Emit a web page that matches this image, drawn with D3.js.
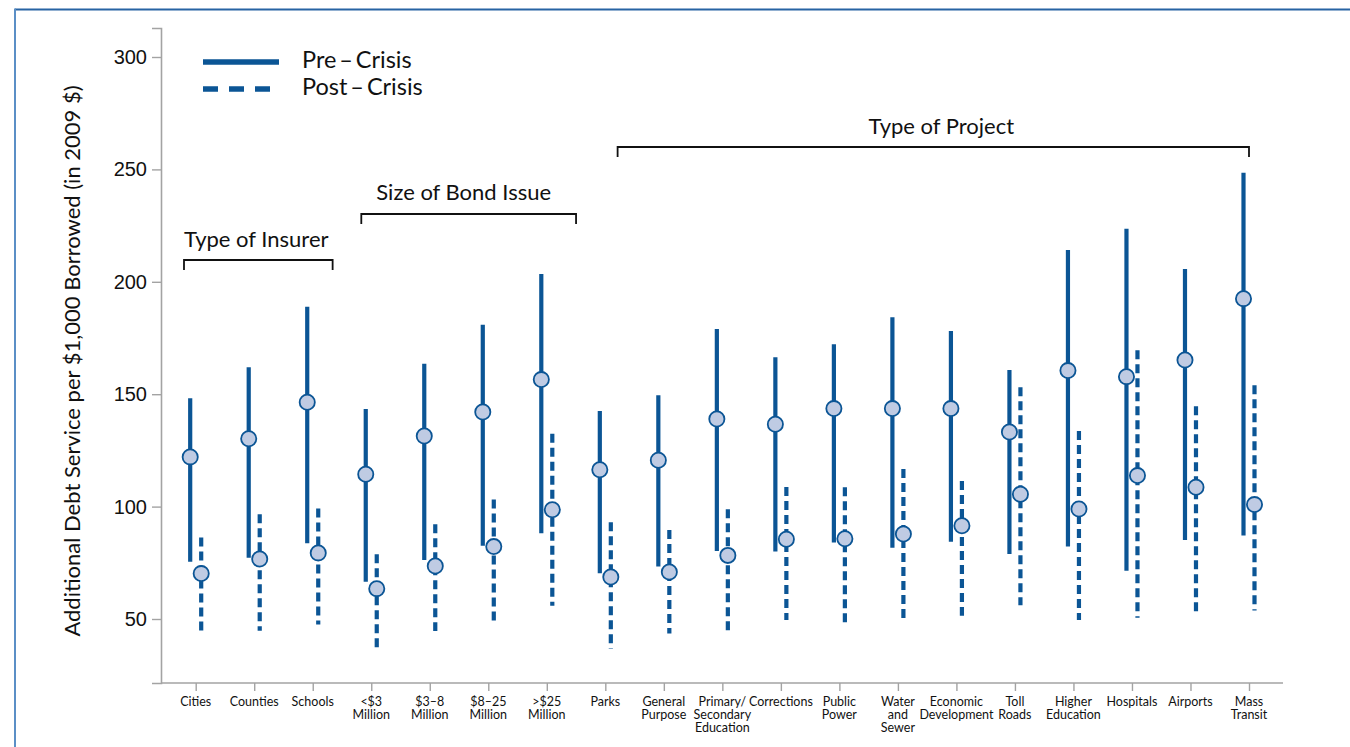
<!DOCTYPE html>
<html>
<head>
<meta charset="utf-8">
<script src="https://cdn.jsdelivr.net/npm/d3@7"></script>
<style>
  html, body { margin: 0; padding: 0; background: #fff; }
  svg { display: block; }
  .lab { font-family: Lato, "Open Sans", sans-serif; fill: #111; }
  .num { font-family: "Liberation Sans", Arial, sans-serif; fill: #111; }
</style>
</head>
<body>
<svg id="chart" width="1350" height="747"></svg>
<script>
// Category labels (line breaks marked with \n)
const categories = [
  "Cities", "Counties", "Schools",
  "<$3\nMillion", "$3–8\nMillion", "$8–25\nMillion", ">$25\nMillion",
  "Parks", "General\nPurpose", "Primary/\nSecondary\nEducation", "Corrections",
  "Public\nPower", "Water\nand\nSewer", "Economic\nDevelopment", "Toll\nRoads",
  "Higher\nEducation", "Hospitals", "Airports", "Mass\nTransit"
];

// Pre-crisis estimate with interval
const preMid  = [122.1, 130.2, 146.4, 114.4, 131.4, 142.1, 156.5, 116.4, 120.6, 139.0, 136.6, 143.6, 143.6, 143.6, 133.2, 160.5, 157.8, 165.2, 192.5];
const preLow  = [75.5, 77.3, 83.7, 66.6, 76.2, 82.6, 88.1, 70.3, 73.3, 80.2, 80.0, 84.0, 81.7, 84.4, 78.9, 82.2, 71.5, 85.1, 87.1];
const preHigh = [148.2, 162.0, 188.9, 143.4, 163.6, 180.9, 203.5, 142.5, 149.5, 179.0, 166.4, 172.2, 184.2, 178.1, 160.8, 214.1, 223.6, 205.7, 248.5];

// Post-crisis estimate with interval
const postMid  = [70.2, 76.7, 79.4, 63.5, 73.6, 82.2, 98.6, 68.7, 70.9, 78.3, 85.5, 85.7, 87.8, 91.5, 105.5, 98.9, 113.8, 108.6, 100.9];
const postLow  = [44.4, 44.8, 47.6, 37.0, 44.7, 48.4, 55.9, 36.8, 43.6, 43.6, 49.6, 47.3, 49.1, 51.5, 56.1, 49.6, 50.6, 52.5, 53.8];
const postHigh = [86.2, 96.6, 99.2, 78.8, 92.1, 103.2, 132.4, 93.0, 89.6, 98.8, 108.7, 108.6, 116.7, 111.4, 153.1, 133.6, 169.5, 144.6, 154.0];

// Y tick values
const yTicks = [50, 100, 150, 200, 250, 300];

// Category groupings shown as brackets above the data
const groupNames = ["Type of Insurer", "Size of Bond Issue", "Type of Project"];
const groupFirst = ["Cities", "<$3\nMillion", "Parks"];
const groupLast  = ["Schools", ">$25\nMillion", "Mass\nTransit"];

const legendNames = ["Pre\u2009–\u2009Crisis", "Post\u2009–\u2009Crisis"];

const svg = d3.select("#chart");
const blue = "#0b5595";
const fillC = "#bfcbe3";
const axisGray = "#a3a3a3";

// frame
svg.append("line").attr("x1", 15).attr("x2", 1350).attr("y1", 9.5).attr("y2", 9.5)
  .attr("stroke", "#2763a3").attr("stroke-width", 2);
svg.append("line").attr("x1", 15).attr("x2", 15).attr("y1", 8.5).attr("y2", 747)
  .attr("stroke", "#5b8fc6").attr("stroke-width", 2);

const axisLeftX = 161, axisBottomY = 683, axisTopY = 28, axisRightX = 1283;

const x = d3.scalePoint().domain(categories).range([195.7, 1249]);
const y = d3.scaleLinear().domain([50, 300]).range([619, 57]);

// y axis
const yAxisScale = y.copy().domain([y.invert(axisBottomY), y.invert(axisTopY)])
  .range([axisBottomY, axisTopY]);
const gy = svg.append("g").attr("transform", `translate(${axisLeftX},0)`)
  .call(d3.axisLeft(yAxisScale).tickValues(yTicks).tickSize(9).tickPadding(5));
gy.select(".domain").attr("stroke", axisGray).attr("stroke-width", 1.6);
gy.selectAll(".tick line").attr("stroke", axisGray).attr("stroke-width", 1.4);
gy.selectAll(".tick text").attr("class", "num").attr("font-size", 20).attr("fill", "#111");

// x axis
const xAxisScale = d3.scalePoint().domain(categories).range(x.range());
const gx = svg.append("g").attr("transform", `translate(0,${axisBottomY})`)
  .call(d3.axisBottom(xAxisScale).tickSize(8).tickSizeOuter(0).tickFormat(""));
gx.select(".domain").attr("d", `M${axisLeftX},0H${axisRightX}`)
  .attr("stroke", axisGray).attr("stroke-width", 1.6);
gx.selectAll(".tick line").attr("stroke", axisGray).attr("stroke-width", 1.4);

const xl = svg.append("g");
categories.forEach(c => {
  const t = xl.append("text").attr("class", "lab").attr("font-size", 12.5)
    .attr("text-anchor", "middle").attr("x", x(c)).attr("y", 706);
  c.split("\n").forEach((line, i) => {
    t.append("tspan").attr("x", x(c)).attr("dy", i === 0 ? 0 : 13).text(line);
  });
});

// y axis title
svg.append("text").attr("class", "lab").attr("font-size", 22)
  .attr("text-anchor", "middle")
  .attr("transform", "translate(80,361) rotate(-90)")
  .text("Additional Debt Service per $1,000 Borrowed (in 2009 $)");

// series
const off = 5.5;
const rows = categories.map((c, i) => ({
  c, preMid: preMid[i], preLow: preLow[i], preHigh: preHigh[i],
  postMid: postMid[i], postLow: postLow[i], postHigh: postHigh[i]
}));

const gd = svg.append("g");
gd.selectAll(".pre").data(rows).join("line").attr("class", "pre")
  .attr("x1", d => x(d.c) - off).attr("x2", d => x(d.c) - off)
  .attr("y1", d => y(d.preHigh)).attr("y2", d => y(d.preLow))
  .attr("stroke", blue).attr("stroke-width", 4.2);
gd.selectAll(".post").data(rows).join("line").attr("class", "post")
  .attr("x1", d => x(d.c) + off).attr("x2", d => x(d.c) + off)
  .attr("y1", d => y(d.postHigh)).attr("y2", d => y(d.postLow))
  .attr("stroke", blue).attr("stroke-width", 4.2).attr("stroke-dasharray", "9,5");
gd.selectAll(".postDot").data(rows).join("circle").attr("class", "postDot")
  .attr("cx", d => x(d.c) + off).attr("cy", d => y(d.postMid)).attr("r", 7.6)
  .attr("fill", fillC).attr("stroke", blue).attr("stroke-width", 1.8);
gd.selectAll(".preDot").data(rows).join("circle").attr("class", "preDot")
  .attr("cx", d => x(d.c) - off).attr("cy", d => y(d.preMid)).attr("r", 7.6)
  .attr("fill", fillC).attr("stroke", blue).attr("stroke-width", 1.8);

// group brackets
const step = x.step();
const bracketY = [260, 214, 147];
const bracketTextY = [247, 200, 134];
const textShift = [-2, -5, 8];
const leftPad = [-0.2, -0.17, 0.21];
const rightPad = [0.34, 0.5, 0];
const gb = svg.append("g");
groupNames.forEach((name, i) => {
  const x0 = x(groupFirst[i]) + leftPad[i] * step;
  const x1 = x(groupLast[i]) + rightPad[i] * step;
  const yb = bracketY[i];
  gb.append("path")
    .attr("d", `M${x0},${yb + 10}V${yb}H${x1}V${yb + 10}`)
    .attr("fill", "none").attr("stroke", "#111").attr("stroke-width", 1.8);
  gb.append("text").attr("class", "lab").attr("font-size", 22)
    .attr("text-anchor", "middle").attr("x", (x0 + x1) / 2 + textShift[i]).attr("y", bracketTextY[i])
    .text(name);
});

// legend
const lg = svg.append("g");
legendNames.forEach((name, i) => {
  const ly = 62 + i * 27;
  lg.append("line").attr("x1", 203).attr("x2", 279).attr("y1", ly).attr("y2", ly)
    .attr("stroke", blue).attr("stroke-width", 5.5)
    .attr("stroke-dasharray", i === 1 ? "15,11" : null);
  lg.append("text").attr("class", "lab").attr("font-size", 23.5)
    .attr("x", 302).attr("y", ly + 6).text(name);
});
</script>
</body>
</html>
